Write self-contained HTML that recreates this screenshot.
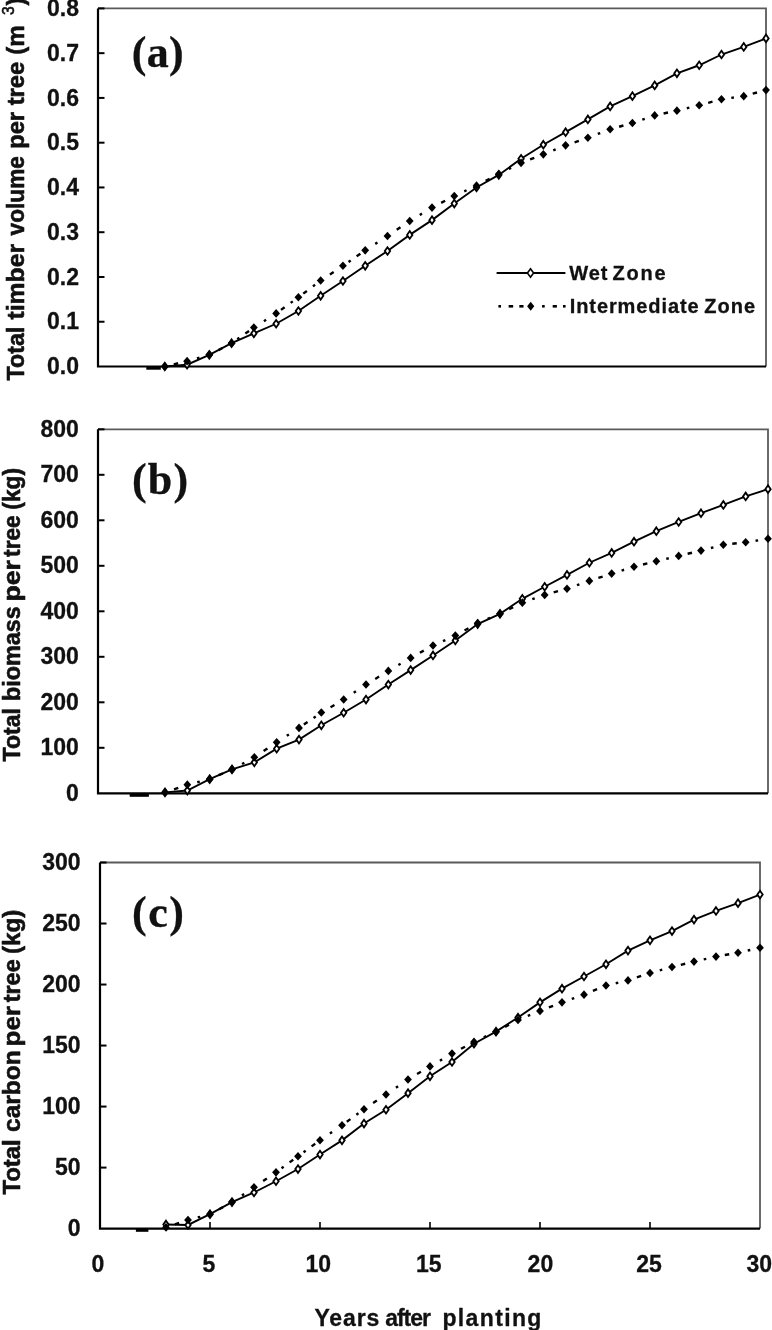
<!DOCTYPE html>
<html><head><meta charset="utf-8"><title>Growth curves</title>
<style>html,body{margin:0;padding:0;background:#fff;}svg{display:block;}</style>
</head><body>
<svg width="772" height="1330" viewBox="0 0 772 1330">
<rect width="772" height="1330" fill="#fff"/>
<path d="M98 8.4H766V366.5" fill="none" stroke="#5a5a5a" stroke-width="1.8"/>
<text x="79.0" y="374.10" text-anchor="end" style="font-family:'Liberation Sans',Arial,sans-serif;font-weight:bold;font-size:23px;stroke:#111;stroke-width:0.3px" fill="#111">0.0</text>
<line x1="98" y1="321.74" x2="104.5" y2="321.74" stroke="#000" stroke-width="2"/>
<text x="79.0" y="329.34" text-anchor="end" style="font-family:'Liberation Sans',Arial,sans-serif;font-weight:bold;font-size:23px;stroke:#111;stroke-width:0.3px" fill="#111">0.1</text>
<line x1="98" y1="276.98" x2="104.5" y2="276.98" stroke="#000" stroke-width="2"/>
<text x="79.0" y="284.58" text-anchor="end" style="font-family:'Liberation Sans',Arial,sans-serif;font-weight:bold;font-size:23px;stroke:#111;stroke-width:0.3px" fill="#111">0.2</text>
<line x1="98" y1="232.21" x2="104.5" y2="232.21" stroke="#000" stroke-width="2"/>
<text x="79.0" y="239.81" text-anchor="end" style="font-family:'Liberation Sans',Arial,sans-serif;font-weight:bold;font-size:23px;stroke:#111;stroke-width:0.3px" fill="#111">0.3</text>
<line x1="98" y1="187.45" x2="104.5" y2="187.45" stroke="#000" stroke-width="2"/>
<text x="79.0" y="195.05" text-anchor="end" style="font-family:'Liberation Sans',Arial,sans-serif;font-weight:bold;font-size:23px;stroke:#111;stroke-width:0.3px" fill="#111">0.4</text>
<line x1="98" y1="142.69" x2="104.5" y2="142.69" stroke="#000" stroke-width="2"/>
<text x="79.0" y="150.29" text-anchor="end" style="font-family:'Liberation Sans',Arial,sans-serif;font-weight:bold;font-size:23px;stroke:#111;stroke-width:0.3px" fill="#111">0.5</text>
<line x1="98" y1="97.92" x2="104.5" y2="97.92" stroke="#000" stroke-width="2"/>
<text x="79.0" y="105.52" text-anchor="end" style="font-family:'Liberation Sans',Arial,sans-serif;font-weight:bold;font-size:23px;stroke:#111;stroke-width:0.3px" fill="#111">0.6</text>
<line x1="98" y1="53.16" x2="104.5" y2="53.16" stroke="#000" stroke-width="2"/>
<text x="79.0" y="60.76" text-anchor="end" style="font-family:'Liberation Sans',Arial,sans-serif;font-weight:bold;font-size:23px;stroke:#111;stroke-width:0.3px" fill="#111">0.7</text>
<line x1="98" y1="8.40" x2="104.5" y2="8.40" stroke="#000" stroke-width="2"/>
<text x="79.0" y="16.00" text-anchor="end" style="font-family:'Liberation Sans',Arial,sans-serif;font-weight:bold;font-size:23px;stroke:#111;stroke-width:0.3px" fill="#111">0.8</text>
<path d="M98 8.4V366.5H766" fill="none" stroke="#000" stroke-width="2.2"/>
<rect x="146.3" y="366.4" width="14.50" height="3.30" fill="#000"/>
<path d="M164.80 366.50 L187.07 364.71 L209.33 354.86 L231.60 343.22 L253.87 333.38 L276.13 323.75 L298.40 310.99 L320.67 295.78 L342.93 281.00 L365.20 265.78 L387.47 251.01 L409.73 234.90 L432.00 220.13 L454.27 203.56 L476.53 187.45 L498.80 174.92 L521.07 158.80 L543.33 144.70 L565.60 132.17 L587.87 119.41 L610.13 106.43 L632.40 96.13 L654.67 85.39 L676.93 73.31 L699.20 65.25 L721.47 54.51 L743.73 46.90 L766.00 38.39" fill="none" stroke="#000" stroke-width="1.9"/>
<path d="M164.80 362.70L167.50 366.50L164.80 370.30L162.10 366.50Z" fill="#fff" stroke="#000" stroke-width="1.8"/>
<path d="M187.07 360.91L189.77 364.71L187.07 368.51L184.37 364.71Z" fill="#fff" stroke="#000" stroke-width="1.8"/>
<path d="M209.33 351.06L212.03 354.86L209.33 358.66L206.63 354.86Z" fill="#fff" stroke="#000" stroke-width="1.8"/>
<path d="M231.60 339.42L234.30 343.22L231.60 347.02L228.90 343.22Z" fill="#fff" stroke="#000" stroke-width="1.8"/>
<path d="M253.87 329.58L256.57 333.38L253.87 337.18L251.17 333.38Z" fill="#fff" stroke="#000" stroke-width="1.8"/>
<path d="M276.13 319.95L278.83 323.75L276.13 327.55L273.43 323.75Z" fill="#fff" stroke="#000" stroke-width="1.8"/>
<path d="M298.40 307.19L301.10 310.99L298.40 314.79L295.70 310.99Z" fill="#fff" stroke="#000" stroke-width="1.8"/>
<path d="M320.67 291.98L323.37 295.78L320.67 299.58L317.97 295.78Z" fill="#fff" stroke="#000" stroke-width="1.8"/>
<path d="M342.93 277.20L345.63 281.00L342.93 284.80L340.23 281.00Z" fill="#fff" stroke="#000" stroke-width="1.8"/>
<path d="M365.20 261.98L367.90 265.78L365.20 269.58L362.50 265.78Z" fill="#fff" stroke="#000" stroke-width="1.8"/>
<path d="M387.47 247.21L390.17 251.01L387.47 254.81L384.77 251.01Z" fill="#fff" stroke="#000" stroke-width="1.8"/>
<path d="M409.73 231.10L412.43 234.90L409.73 238.70L407.03 234.90Z" fill="#fff" stroke="#000" stroke-width="1.8"/>
<path d="M432.00 216.33L434.70 220.13L432.00 223.93L429.30 220.13Z" fill="#fff" stroke="#000" stroke-width="1.8"/>
<path d="M454.27 199.76L456.97 203.56L454.27 207.36L451.57 203.56Z" fill="#fff" stroke="#000" stroke-width="1.8"/>
<path d="M476.53 183.65L479.23 187.45L476.53 191.25L473.83 187.45Z" fill="#fff" stroke="#000" stroke-width="1.8"/>
<path d="M498.80 171.12L501.50 174.92L498.80 178.72L496.10 174.92Z" fill="#fff" stroke="#000" stroke-width="1.8"/>
<path d="M521.07 155.00L523.77 158.80L521.07 162.60L518.37 158.80Z" fill="#fff" stroke="#000" stroke-width="1.8"/>
<path d="M543.33 140.90L546.03 144.70L543.33 148.50L540.63 144.70Z" fill="#fff" stroke="#000" stroke-width="1.8"/>
<path d="M565.60 128.37L568.30 132.17L565.60 135.97L562.90 132.17Z" fill="#fff" stroke="#000" stroke-width="1.8"/>
<path d="M587.87 115.61L590.57 119.41L587.87 123.21L585.17 119.41Z" fill="#fff" stroke="#000" stroke-width="1.8"/>
<path d="M610.13 102.63L612.83 106.43L610.13 110.23L607.43 106.43Z" fill="#fff" stroke="#000" stroke-width="1.8"/>
<path d="M632.40 92.33L635.10 96.13L632.40 99.93L629.70 96.13Z" fill="#fff" stroke="#000" stroke-width="1.8"/>
<path d="M654.67 81.59L657.37 85.39L654.67 89.19L651.97 85.39Z" fill="#fff" stroke="#000" stroke-width="1.8"/>
<path d="M676.93 69.51L679.63 73.31L676.93 77.11L674.23 73.31Z" fill="#fff" stroke="#000" stroke-width="1.8"/>
<path d="M699.20 61.45L701.90 65.25L699.20 69.05L696.50 65.25Z" fill="#fff" stroke="#000" stroke-width="1.8"/>
<path d="M721.47 50.71L724.17 54.51L721.47 58.31L718.77 54.51Z" fill="#fff" stroke="#000" stroke-width="1.8"/>
<path d="M743.73 43.10L746.43 46.90L743.73 50.70L741.03 46.90Z" fill="#fff" stroke="#000" stroke-width="1.8"/>
<path d="M766.00 34.59L768.70 38.39L766.00 42.19L763.30 38.39Z" fill="#fff" stroke="#000" stroke-width="1.8"/>
<path d="M173.75 364.34L178.12 363.29M196.95 358.35L199.45 357.64M218.47 350.08L222.46 348.00M237.22 339.27L239.34 337.78M245.35 333.55L249.03 330.96M263.90 321.18L266.10 319.79M280.99 309.90L284.64 307.26M290.67 302.89L292.77 301.37M303.28 293.63L306.88 290.92M312.95 286.36L315.03 284.80M329.93 274.41L333.67 271.93M348.55 261.89L350.68 260.41M356.67 256.26L360.37 253.69M375.24 243.88L377.43 242.48M396.73 229.78L400.47 227.26M419.75 214.98L421.98 213.64M441.14 202.82L445.13 200.73M464.22 191.35L466.58 190.26M485.67 180.88L489.66 178.80M508.77 169.01L511.09 167.84M530.10 159.38L534.30 157.78M553.26 150.33L555.67 149.36M574.60 142.30L578.86 140.84M597.79 133.98L600.21 133.05M619.10 126.73L623.43 125.52M642.30 119.61L644.76 118.77M663.60 113.48L668.00 112.54M686.80 108.24L689.33 107.62M708.16 102.83L712.51 101.66M731.31 97.88L733.89 97.52M752.70 93.70L757.04 92.52" fill="none" stroke="#000" stroke-width="2.4"/>
<path d="M164.80 362.20L168.70 366.50L164.80 370.80L160.90 366.50Z" fill="#000"/>
<path d="M187.07 356.83L190.97 361.13L187.07 365.43L183.17 361.13Z" fill="#000"/>
<path d="M209.33 350.56L213.23 354.86L209.33 359.16L205.43 354.86Z" fill="#000"/>
<path d="M231.60 338.92L235.50 343.22L231.60 347.52L227.70 343.22Z" fill="#000"/>
<path d="M253.87 323.26L257.77 327.56L253.87 331.86L249.97 327.56Z" fill="#000"/>
<path d="M276.13 309.11L280.03 313.41L276.13 317.71L272.23 313.41Z" fill="#000"/>
<path d="M298.40 293.00L302.30 297.30L298.40 301.60L294.50 297.30Z" fill="#000"/>
<path d="M320.67 276.26L324.57 280.56L320.67 284.86L316.77 280.56Z" fill="#000"/>
<path d="M342.93 261.48L346.83 265.78L342.93 270.08L339.03 265.78Z" fill="#000"/>
<path d="M365.20 246.04L369.10 250.34L365.20 254.64L361.30 250.34Z" fill="#000"/>
<path d="M387.47 231.72L391.37 236.02L387.47 240.32L383.57 236.02Z" fill="#000"/>
<path d="M409.73 216.72L413.63 221.02L409.73 225.32L405.83 221.02Z" fill="#000"/>
<path d="M432.00 203.29L435.90 207.59L432.00 211.89L428.10 207.59Z" fill="#000"/>
<path d="M454.27 191.65L458.17 195.95L454.27 200.25L450.37 195.95Z" fill="#000"/>
<path d="M476.53 181.36L480.43 185.66L476.53 189.96L472.63 185.66Z" fill="#000"/>
<path d="M498.80 169.72L502.70 174.02L498.80 178.32L494.90 174.02Z" fill="#000"/>
<path d="M521.07 158.53L524.97 162.83L521.07 167.13L517.17 162.83Z" fill="#000"/>
<path d="M543.33 150.03L547.23 154.33L543.33 158.63L539.43 154.33Z" fill="#000"/>
<path d="M565.60 141.07L569.50 145.37L565.60 149.67L561.70 145.37Z" fill="#000"/>
<path d="M587.87 133.46L591.77 137.76L587.87 142.06L583.97 137.76Z" fill="#000"/>
<path d="M610.13 124.96L614.03 129.26L610.13 133.56L606.23 129.26Z" fill="#000"/>
<path d="M632.40 118.69L636.30 122.99L632.40 127.29L628.50 122.99Z" fill="#000"/>
<path d="M654.67 111.08L658.57 115.38L654.67 119.68L650.77 115.38Z" fill="#000"/>
<path d="M676.93 106.34L680.83 110.64L676.93 114.94L673.03 110.64Z" fill="#000"/>
<path d="M699.20 100.92L703.10 105.22L699.20 109.52L695.30 105.22Z" fill="#000"/>
<path d="M721.47 94.97L725.37 99.27L721.47 103.57L717.57 99.27Z" fill="#000"/>
<path d="M743.73 91.83L747.63 96.13L743.73 100.43L739.83 96.13Z" fill="#000"/>
<path d="M766.00 85.79L769.90 90.09L766.00 94.39L762.10 90.09Z" fill="#000"/>
<path d="M98 429.3H768V793.3" fill="none" stroke="#5a5a5a" stroke-width="1.8"/>
<text x="78.8" y="800.90" text-anchor="end" style="font-family:'Liberation Sans',Arial,sans-serif;font-weight:bold;font-size:23px;stroke:#111;stroke-width:0.3px" fill="#111">0</text>
<line x1="98" y1="747.80" x2="104.5" y2="747.80" stroke="#000" stroke-width="2"/>
<text x="78.8" y="755.40" text-anchor="end" style="font-family:'Liberation Sans',Arial,sans-serif;font-weight:bold;font-size:23px;stroke:#111;stroke-width:0.3px" fill="#111">100</text>
<line x1="98" y1="702.30" x2="104.5" y2="702.30" stroke="#000" stroke-width="2"/>
<text x="78.8" y="709.90" text-anchor="end" style="font-family:'Liberation Sans',Arial,sans-serif;font-weight:bold;font-size:23px;stroke:#111;stroke-width:0.3px" fill="#111">200</text>
<line x1="98" y1="656.80" x2="104.5" y2="656.80" stroke="#000" stroke-width="2"/>
<text x="78.8" y="664.40" text-anchor="end" style="font-family:'Liberation Sans',Arial,sans-serif;font-weight:bold;font-size:23px;stroke:#111;stroke-width:0.3px" fill="#111">300</text>
<line x1="98" y1="611.30" x2="104.5" y2="611.30" stroke="#000" stroke-width="2"/>
<text x="78.8" y="618.90" text-anchor="end" style="font-family:'Liberation Sans',Arial,sans-serif;font-weight:bold;font-size:23px;stroke:#111;stroke-width:0.3px" fill="#111">400</text>
<line x1="98" y1="565.80" x2="104.5" y2="565.80" stroke="#000" stroke-width="2"/>
<text x="78.8" y="573.40" text-anchor="end" style="font-family:'Liberation Sans',Arial,sans-serif;font-weight:bold;font-size:23px;stroke:#111;stroke-width:0.3px" fill="#111">500</text>
<line x1="98" y1="520.30" x2="104.5" y2="520.30" stroke="#000" stroke-width="2"/>
<text x="78.8" y="527.90" text-anchor="end" style="font-family:'Liberation Sans',Arial,sans-serif;font-weight:bold;font-size:23px;stroke:#111;stroke-width:0.3px" fill="#111">600</text>
<line x1="98" y1="474.80" x2="104.5" y2="474.80" stroke="#000" stroke-width="2"/>
<text x="78.8" y="482.40" text-anchor="end" style="font-family:'Liberation Sans',Arial,sans-serif;font-weight:bold;font-size:23px;stroke:#111;stroke-width:0.3px" fill="#111">700</text>
<line x1="98" y1="429.30" x2="104.5" y2="429.30" stroke="#000" stroke-width="2"/>
<text x="78.8" y="436.90" text-anchor="end" style="font-family:'Liberation Sans',Arial,sans-serif;font-weight:bold;font-size:23px;stroke:#111;stroke-width:0.3px" fill="#111">800</text>
<path d="M98 429.3V793.3H768" fill="none" stroke="#000" stroke-width="2.2"/>
<rect x="129.7" y="793.4" width="19.20" height="3.40" fill="#000"/>
<path d="M165.00 792.39 L187.33 790.57 L209.67 779.19 L232.00 769.41 L254.33 762.36 L276.67 748.71 L299.00 739.61 L321.33 725.28 L343.67 712.76 L366.00 699.57 L388.33 684.55 L410.67 670.09 L433.00 655.43 L455.33 640.42 L477.67 624.04 L500.00 613.80 L522.33 598.79 L544.67 586.73 L567.00 574.90 L589.33 562.75 L611.67 552.92 L634.00 541.68 L656.33 531.22 L678.67 521.98 L701.00 513.20 L723.33 504.92 L745.67 496.41 L768.00 489.13" fill="none" stroke="#000" stroke-width="1.9"/>
<path d="M165.00 788.59L167.70 792.39L165.00 796.19L162.30 792.39Z" fill="#fff" stroke="#000" stroke-width="1.8"/>
<path d="M187.33 786.77L190.03 790.57L187.33 794.37L184.63 790.57Z" fill="#fff" stroke="#000" stroke-width="1.8"/>
<path d="M209.67 775.39L212.37 779.19L209.67 782.99L206.97 779.19Z" fill="#fff" stroke="#000" stroke-width="1.8"/>
<path d="M232.00 765.61L234.70 769.41L232.00 773.21L229.30 769.41Z" fill="#fff" stroke="#000" stroke-width="1.8"/>
<path d="M254.33 758.56L257.03 762.36L254.33 766.16L251.63 762.36Z" fill="#fff" stroke="#000" stroke-width="1.8"/>
<path d="M276.67 744.91L279.37 748.71L276.67 752.51L273.97 748.71Z" fill="#fff" stroke="#000" stroke-width="1.8"/>
<path d="M299.00 735.81L301.70 739.61L299.00 743.41L296.30 739.61Z" fill="#fff" stroke="#000" stroke-width="1.8"/>
<path d="M321.33 721.48L324.03 725.28L321.33 729.08L318.63 725.28Z" fill="#fff" stroke="#000" stroke-width="1.8"/>
<path d="M343.67 708.97L346.37 712.76L343.67 716.56L340.97 712.76Z" fill="#fff" stroke="#000" stroke-width="1.8"/>
<path d="M366.00 695.77L368.70 699.57L366.00 703.37L363.30 699.57Z" fill="#fff" stroke="#000" stroke-width="1.8"/>
<path d="M388.33 680.75L391.03 684.55L388.33 688.35L385.63 684.55Z" fill="#fff" stroke="#000" stroke-width="1.8"/>
<path d="M410.67 666.29L413.37 670.09L410.67 673.89L407.97 670.09Z" fill="#fff" stroke="#000" stroke-width="1.8"/>
<path d="M433.00 651.63L435.70 655.43L433.00 659.23L430.30 655.43Z" fill="#fff" stroke="#000" stroke-width="1.8"/>
<path d="M455.33 636.62L458.03 640.42L455.33 644.22L452.63 640.42Z" fill="#fff" stroke="#000" stroke-width="1.8"/>
<path d="M477.67 620.24L480.37 624.04L477.67 627.84L474.97 624.04Z" fill="#fff" stroke="#000" stroke-width="1.8"/>
<path d="M500.00 610.00L502.70 613.80L500.00 617.60L497.30 613.80Z" fill="#fff" stroke="#000" stroke-width="1.8"/>
<path d="M522.33 594.99L525.03 598.79L522.33 602.59L519.63 598.79Z" fill="#fff" stroke="#000" stroke-width="1.8"/>
<path d="M544.67 582.93L547.37 586.73L544.67 590.53L541.97 586.73Z" fill="#fff" stroke="#000" stroke-width="1.8"/>
<path d="M567.00 571.10L569.70 574.90L567.00 578.70L564.30 574.90Z" fill="#fff" stroke="#000" stroke-width="1.8"/>
<path d="M589.33 558.95L592.03 562.75L589.33 566.55L586.63 562.75Z" fill="#fff" stroke="#000" stroke-width="1.8"/>
<path d="M611.67 549.12L614.37 552.92L611.67 556.72L608.97 552.92Z" fill="#fff" stroke="#000" stroke-width="1.8"/>
<path d="M634.00 537.88L636.70 541.68L634.00 545.48L631.30 541.68Z" fill="#fff" stroke="#000" stroke-width="1.8"/>
<path d="M656.33 527.42L659.03 531.22L656.33 535.02L653.63 531.22Z" fill="#fff" stroke="#000" stroke-width="1.8"/>
<path d="M678.67 518.18L681.37 521.98L678.67 525.78L675.97 521.98Z" fill="#fff" stroke="#000" stroke-width="1.8"/>
<path d="M701.00 509.40L703.70 513.20L701.00 517.00L698.30 513.20Z" fill="#fff" stroke="#000" stroke-width="1.8"/>
<path d="M723.33 501.12L726.03 504.92L723.33 508.72L720.63 504.92Z" fill="#fff" stroke="#000" stroke-width="1.8"/>
<path d="M745.67 492.61L748.37 496.41L745.67 500.21L742.97 496.41Z" fill="#fff" stroke="#000" stroke-width="1.8"/>
<path d="M768.00 485.33L770.70 489.13L768.00 492.93L765.30 489.13Z" fill="#fff" stroke="#000" stroke-width="1.8"/>
<path d="M174.04 789.26L178.29 787.79M197.24 782.23L199.76 781.62M218.77 775.21L222.89 773.40M242.03 763.94L244.31 762.69M263.63 751.03L267.37 748.53M286.74 735.83L288.93 734.42M303.85 724.58L307.55 722.03M313.56 717.89L315.70 716.41M330.55 707.18L334.45 704.92M353.75 692.79L355.91 691.34M375.25 678.90L379.09 676.56M398.38 665.05L400.62 663.74M419.87 652.79L423.80 650.61M442.98 641.08L445.35 640.03M464.54 630.46L468.46 628.27M487.63 618.97L490.03 617.97M509.15 609.23L513.18 607.22M532.27 599.21L534.73 598.36M553.67 592.41L558.00 591.20M576.94 585.22L579.39 584.37M598.36 577.94L602.64 576.54M621.59 570.53L624.08 569.76M642.98 564.51L647.35 563.45M666.24 558.87L668.76 558.26M687.64 553.76L692.02 552.72M710.91 547.98L713.42 547.31M732.26 543.74L736.74 543.27M755.55 540.75L758.12 540.34" fill="none" stroke="#000" stroke-width="2.4"/>
<path d="M165.00 788.09L168.90 792.39L165.00 796.69L161.10 792.39Z" fill="#000"/>
<path d="M187.33 780.36L191.23 784.65L187.33 788.95L183.43 784.65Z" fill="#000"/>
<path d="M209.67 774.89L213.57 779.19L209.67 783.49L205.77 779.19Z" fill="#000"/>
<path d="M232.00 765.11L235.90 769.41L232.00 773.71L228.10 769.41Z" fill="#000"/>
<path d="M254.33 752.92L258.23 757.22L254.33 761.52L250.43 757.22Z" fill="#000"/>
<path d="M276.67 738.04L280.57 742.34L276.67 746.64L272.77 742.34Z" fill="#000"/>
<path d="M299.00 723.62L302.90 727.92L299.00 732.22L295.10 727.92Z" fill="#000"/>
<path d="M321.33 708.24L325.23 712.54L321.33 716.84L317.43 712.54Z" fill="#000"/>
<path d="M343.67 695.27L347.57 699.57L343.67 703.87L339.77 699.57Z" fill="#000"/>
<path d="M366.00 680.25L369.90 684.55L366.00 688.85L362.10 684.55Z" fill="#000"/>
<path d="M388.33 666.61L392.23 670.90L388.33 675.20L384.43 670.90Z" fill="#000"/>
<path d="M410.67 653.59L414.57 657.89L410.67 662.19L406.77 657.89Z" fill="#000"/>
<path d="M433.00 641.22L436.90 645.52L433.00 649.82L429.10 645.52Z" fill="#000"/>
<path d="M455.33 631.30L459.23 635.60L455.33 639.90L451.43 635.60Z" fill="#000"/>
<path d="M477.67 618.83L481.57 623.13L477.67 627.43L473.77 623.13Z" fill="#000"/>
<path d="M500.00 609.50L503.90 613.80L500.00 618.10L496.10 613.80Z" fill="#000"/>
<path d="M522.33 598.36L526.23 602.65L522.33 606.95L518.43 602.65Z" fill="#000"/>
<path d="M544.67 590.62L548.57 594.92L544.67 599.22L540.77 594.92Z" fill="#000"/>
<path d="M567.00 584.39L570.90 588.69L567.00 592.99L563.10 588.69Z" fill="#000"/>
<path d="M589.33 576.61L593.23 580.91L589.33 585.21L585.43 580.91Z" fill="#000"/>
<path d="M611.67 569.28L615.57 573.58L611.67 577.88L607.77 573.58Z" fill="#000"/>
<path d="M634.00 562.41L637.90 566.71L634.00 571.01L630.10 566.71Z" fill="#000"/>
<path d="M656.33 556.95L660.23 561.25L656.33 565.55L652.43 561.25Z" fill="#000"/>
<path d="M678.67 551.58L682.57 555.88L678.67 560.18L674.77 555.88Z" fill="#000"/>
<path d="M701.00 546.30L704.90 550.60L701.00 554.90L697.10 550.60Z" fill="#000"/>
<path d="M723.33 540.39L727.23 544.69L723.33 548.99L719.43 544.69Z" fill="#000"/>
<path d="M745.67 538.02L749.57 542.32L745.67 546.62L741.77 542.32Z" fill="#000"/>
<path d="M768.00 534.47L771.90 538.77L768.00 543.07L764.10 538.77Z" fill="#000"/>
<path d="M100 862.5H760V1228.6" fill="none" stroke="#5a5a5a" stroke-width="1.8"/>
<text x="80.5" y="1236.20" text-anchor="end" style="font-family:'Liberation Sans',Arial,sans-serif;font-weight:bold;font-size:23px;stroke:#111;stroke-width:0.3px" fill="#111">0</text>
<line x1="100" y1="1167.58" x2="106.5" y2="1167.58" stroke="#000" stroke-width="2"/>
<text x="80.5" y="1175.18" text-anchor="end" style="font-family:'Liberation Sans',Arial,sans-serif;font-weight:bold;font-size:23px;stroke:#111;stroke-width:0.3px" fill="#111">50</text>
<line x1="100" y1="1106.57" x2="106.5" y2="1106.57" stroke="#000" stroke-width="2"/>
<text x="80.5" y="1114.17" text-anchor="end" style="font-family:'Liberation Sans',Arial,sans-serif;font-weight:bold;font-size:23px;stroke:#111;stroke-width:0.3px" fill="#111">100</text>
<line x1="100" y1="1045.55" x2="106.5" y2="1045.55" stroke="#000" stroke-width="2"/>
<text x="80.5" y="1053.15" text-anchor="end" style="font-family:'Liberation Sans',Arial,sans-serif;font-weight:bold;font-size:23px;stroke:#111;stroke-width:0.3px" fill="#111">150</text>
<line x1="100" y1="984.53" x2="106.5" y2="984.53" stroke="#000" stroke-width="2"/>
<text x="80.5" y="992.13" text-anchor="end" style="font-family:'Liberation Sans',Arial,sans-serif;font-weight:bold;font-size:23px;stroke:#111;stroke-width:0.3px" fill="#111">200</text>
<line x1="100" y1="923.52" x2="106.5" y2="923.52" stroke="#000" stroke-width="2"/>
<text x="80.5" y="931.12" text-anchor="end" style="font-family:'Liberation Sans',Arial,sans-serif;font-weight:bold;font-size:23px;stroke:#111;stroke-width:0.3px" fill="#111">250</text>
<line x1="100" y1="862.50" x2="106.5" y2="862.50" stroke="#000" stroke-width="2"/>
<text x="80.5" y="870.10" text-anchor="end" style="font-family:'Liberation Sans',Arial,sans-serif;font-weight:bold;font-size:23px;stroke:#111;stroke-width:0.3px" fill="#111">300</text>
<line x1="210.00" y1="1228.6" x2="210.00" y2="1222.1" stroke="#000" stroke-width="1.6"/>
<line x1="320.00" y1="1228.6" x2="320.00" y2="1222.1" stroke="#000" stroke-width="1.6"/>
<line x1="430.00" y1="1228.6" x2="430.00" y2="1222.1" stroke="#000" stroke-width="1.6"/>
<line x1="540.00" y1="1228.6" x2="540.00" y2="1222.1" stroke="#000" stroke-width="1.6"/>
<line x1="650.00" y1="1228.6" x2="650.00" y2="1222.1" stroke="#000" stroke-width="1.6"/>
<path d="M100 862.5V1228.6H760" fill="none" stroke="#000" stroke-width="2.2"/>
<rect x="135.9" y="1228.7" width="12.50" height="3.10" fill="#000"/>
<path d="M166.00 1224.45 L188.00 1224.94 L210.00 1214.20 L232.00 1202.12 L254.00 1192.48 L276.00 1181.25 L298.00 1169.05 L320.00 1154.53 L342.00 1140.37 L364.00 1123.53 L386.00 1109.74 L408.00 1093.14 L430.00 1076.30 L452.00 1062.02 L474.00 1043.72 L496.00 1031.64 L518.00 1017.48 L540.00 1002.35 L562.00 988.68 L584.00 976.48 L606.00 964.28 L628.00 950.61 L650.00 940.36 L672.00 931.08 L694.00 919.61 L716.00 910.95 L738.00 903.14 L760.00 894.59" fill="none" stroke="#000" stroke-width="1.9"/>
<path d="M166.00 1220.65L168.70 1224.45L166.00 1228.25L163.30 1224.45Z" fill="#fff" stroke="#000" stroke-width="1.8"/>
<path d="M188.00 1221.14L190.70 1224.94L188.00 1228.74L185.30 1224.94Z" fill="#fff" stroke="#000" stroke-width="1.8"/>
<path d="M210.00 1210.40L212.70 1214.20L210.00 1218.00L207.30 1214.20Z" fill="#fff" stroke="#000" stroke-width="1.8"/>
<path d="M232.00 1198.32L234.70 1202.12L232.00 1205.92L229.30 1202.12Z" fill="#fff" stroke="#000" stroke-width="1.8"/>
<path d="M254.00 1188.68L256.70 1192.48L254.00 1196.28L251.30 1192.48Z" fill="#fff" stroke="#000" stroke-width="1.8"/>
<path d="M276.00 1177.45L278.70 1181.25L276.00 1185.05L273.30 1181.25Z" fill="#fff" stroke="#000" stroke-width="1.8"/>
<path d="M298.00 1165.25L300.70 1169.05L298.00 1172.85L295.30 1169.05Z" fill="#fff" stroke="#000" stroke-width="1.8"/>
<path d="M320.00 1150.73L322.70 1154.53L320.00 1158.33L317.30 1154.53Z" fill="#fff" stroke="#000" stroke-width="1.8"/>
<path d="M342.00 1136.57L344.70 1140.37L342.00 1144.17L339.30 1140.37Z" fill="#fff" stroke="#000" stroke-width="1.8"/>
<path d="M364.00 1119.73L366.70 1123.53L364.00 1127.33L361.30 1123.53Z" fill="#fff" stroke="#000" stroke-width="1.8"/>
<path d="M386.00 1105.94L388.70 1109.74L386.00 1113.54L383.30 1109.74Z" fill="#fff" stroke="#000" stroke-width="1.8"/>
<path d="M408.00 1089.34L410.70 1093.14L408.00 1096.94L405.30 1093.14Z" fill="#fff" stroke="#000" stroke-width="1.8"/>
<path d="M430.00 1072.50L432.70 1076.30L430.00 1080.10L427.30 1076.30Z" fill="#fff" stroke="#000" stroke-width="1.8"/>
<path d="M452.00 1058.22L454.70 1062.02L452.00 1065.82L449.30 1062.02Z" fill="#fff" stroke="#000" stroke-width="1.8"/>
<path d="M474.00 1039.92L476.70 1043.72L474.00 1047.52L471.30 1043.72Z" fill="#fff" stroke="#000" stroke-width="1.8"/>
<path d="M496.00 1027.84L498.70 1031.64L496.00 1035.44L493.30 1031.64Z" fill="#fff" stroke="#000" stroke-width="1.8"/>
<path d="M518.00 1013.68L520.70 1017.48L518.00 1021.28L515.30 1017.48Z" fill="#fff" stroke="#000" stroke-width="1.8"/>
<path d="M540.00 998.55L542.70 1002.35L540.00 1006.15L537.30 1002.35Z" fill="#fff" stroke="#000" stroke-width="1.8"/>
<path d="M562.00 984.88L564.70 988.68L562.00 992.48L559.30 988.68Z" fill="#fff" stroke="#000" stroke-width="1.8"/>
<path d="M584.00 972.68L586.70 976.48L584.00 980.28L581.30 976.48Z" fill="#fff" stroke="#000" stroke-width="1.8"/>
<path d="M606.00 960.48L608.70 964.28L606.00 968.08L603.30 964.28Z" fill="#fff" stroke="#000" stroke-width="1.8"/>
<path d="M628.00 946.81L630.70 950.61L628.00 954.41L625.30 950.61Z" fill="#fff" stroke="#000" stroke-width="1.8"/>
<path d="M650.00 936.56L652.70 940.36L650.00 944.16L647.30 940.36Z" fill="#fff" stroke="#000" stroke-width="1.8"/>
<path d="M672.00 927.28L674.70 931.08L672.00 934.88L669.30 931.08Z" fill="#fff" stroke="#000" stroke-width="1.8"/>
<path d="M694.00 915.81L696.70 919.61L694.00 923.41L691.30 919.61Z" fill="#fff" stroke="#000" stroke-width="1.8"/>
<path d="M716.00 907.15L718.70 910.95L716.00 914.75L713.30 910.95Z" fill="#fff" stroke="#000" stroke-width="1.8"/>
<path d="M738.00 899.34L740.70 903.14L738.00 906.94L735.30 903.14Z" fill="#fff" stroke="#000" stroke-width="1.8"/>
<path d="M760.00 890.79L762.70 894.59L760.00 898.39L757.30 894.59Z" fill="#fff" stroke="#000" stroke-width="1.8"/>
<path d="M174.87 1224.43L179.13 1223.01M197.74 1217.46L200.26 1216.79M219.03 1209.24L222.97 1207.08M241.92 1195.40L244.08 1193.95M263.14 1181.05L266.86 1178.53M281.55 1168.28L283.65 1166.74M289.58 1162.40L293.22 1159.74M303.55 1152.20L305.65 1150.67M311.58 1146.37L315.22 1143.72M329.93 1133.48L332.07 1132.01M346.78 1121.76L350.42 1119.12M356.35 1114.81L358.45 1113.28M373.13 1103.12L376.87 1100.61M395.93 1087.71L398.07 1086.25M417.07 1074.09L420.93 1071.80M439.88 1060.67L442.12 1059.36M461.01 1048.80L464.99 1046.69M483.82 1037.31L486.18 1036.21M505.01 1026.84L508.99 1024.72M527.80 1015.90L530.20 1014.91M548.90 1007.44L553.10 1005.81M571.77 998.94L574.23 998.08M592.92 990.95L597.08 989.22M615.73 983.24L618.27 982.65M636.87 977.38L641.13 975.94M659.75 970.29L662.25 969.61M680.81 964.81L685.19 963.74M703.73 959.38L706.27 958.80M724.78 955.03L729.22 954.24M747.73 950.52L750.27 949.96" fill="none" stroke="#000" stroke-width="2.4"/>
<path d="M166.00 1223.08L169.90 1227.38L166.00 1231.68L162.10 1227.38Z" fill="#000"/>
<path d="M188.00 1215.76L191.90 1220.06L188.00 1224.36L184.10 1220.06Z" fill="#000"/>
<path d="M210.00 1209.90L213.90 1214.20L210.00 1218.50L206.10 1214.20Z" fill="#000"/>
<path d="M232.00 1197.82L235.90 1202.12L232.00 1206.42L228.10 1202.12Z" fill="#000"/>
<path d="M254.00 1182.93L257.90 1187.23L254.00 1191.53L250.10 1187.23Z" fill="#000"/>
<path d="M276.00 1168.04L279.90 1172.34L276.00 1176.64L272.10 1172.34Z" fill="#000"/>
<path d="M298.00 1151.93L301.90 1156.23L298.00 1160.53L294.10 1156.23Z" fill="#000"/>
<path d="M320.00 1135.95L323.90 1140.25L320.00 1144.55L316.10 1140.25Z" fill="#000"/>
<path d="M342.00 1120.94L345.90 1125.24L342.00 1129.54L338.10 1125.24Z" fill="#000"/>
<path d="M364.00 1104.95L367.90 1109.25L364.00 1113.55L360.10 1109.25Z" fill="#000"/>
<path d="M386.00 1090.19L389.90 1094.49L386.00 1098.79L382.10 1094.49Z" fill="#000"/>
<path d="M408.00 1075.18L411.90 1079.48L408.00 1083.78L404.10 1079.48Z" fill="#000"/>
<path d="M430.00 1062.12L433.90 1066.42L430.00 1070.72L426.10 1066.42Z" fill="#000"/>
<path d="M452.00 1049.30L455.90 1053.60L452.00 1057.90L448.10 1053.60Z" fill="#000"/>
<path d="M474.00 1037.59L477.90 1041.89L474.00 1046.19L470.10 1041.89Z" fill="#000"/>
<path d="M496.00 1027.34L499.90 1031.64L496.00 1035.94L492.10 1031.64Z" fill="#000"/>
<path d="M518.00 1015.62L521.90 1019.92L518.00 1024.22L514.10 1019.92Z" fill="#000"/>
<path d="M540.00 1006.59L543.90 1010.89L540.00 1015.19L536.10 1010.89Z" fill="#000"/>
<path d="M562.00 998.05L565.90 1002.35L562.00 1006.65L558.10 1002.35Z" fill="#000"/>
<path d="M584.00 990.36L587.90 994.66L584.00 998.96L580.10 994.66Z" fill="#000"/>
<path d="M606.00 981.21L609.90 985.51L606.00 989.81L602.10 985.51Z" fill="#000"/>
<path d="M628.00 976.08L631.90 980.38L628.00 984.68L624.10 980.38Z" fill="#000"/>
<path d="M650.00 968.64L653.90 972.94L650.00 977.24L646.10 972.94Z" fill="#000"/>
<path d="M672.00 962.66L675.90 966.96L672.00 971.26L668.10 966.96Z" fill="#000"/>
<path d="M694.00 957.29L697.90 961.59L694.00 965.89L690.10 961.59Z" fill="#000"/>
<path d="M716.00 952.29L719.90 956.59L716.00 960.89L712.10 956.59Z" fill="#000"/>
<path d="M738.00 948.38L741.90 952.68L738.00 956.98L734.10 952.68Z" fill="#000"/>
<path d="M760.00 943.50L763.90 947.80L760.00 952.10L756.10 947.80Z" fill="#000"/>
<text x="98.00" y="1272.1" text-anchor="middle" style="font-family:'Liberation Sans',Arial,sans-serif;font-weight:bold;font-size:23px;stroke:#111;stroke-width:0.3px" fill="#111">0</text>
<text x="209.00" y="1272.1" text-anchor="middle" style="font-family:'Liberation Sans',Arial,sans-serif;font-weight:bold;font-size:23px;stroke:#111;stroke-width:0.3px" fill="#111">5</text>
<text x="318.30" y="1272.1" text-anchor="middle" style="font-family:'Liberation Sans',Arial,sans-serif;font-weight:bold;font-size:23px;stroke:#111;stroke-width:0.3px" fill="#111">10</text>
<text x="428.70" y="1272.1" text-anchor="middle" style="font-family:'Liberation Sans',Arial,sans-serif;font-weight:bold;font-size:23px;stroke:#111;stroke-width:0.3px" fill="#111">15</text>
<text x="540.40" y="1272.1" text-anchor="middle" style="font-family:'Liberation Sans',Arial,sans-serif;font-weight:bold;font-size:23px;stroke:#111;stroke-width:0.3px" fill="#111">20</text>
<text x="649.00" y="1272.1" text-anchor="middle" style="font-family:'Liberation Sans',Arial,sans-serif;font-weight:bold;font-size:23px;stroke:#111;stroke-width:0.3px" fill="#111">25</text>
<text x="759.30" y="1272.1" text-anchor="middle" style="font-family:'Liberation Sans',Arial,sans-serif;font-weight:bold;font-size:23px;stroke:#111;stroke-width:0.3px" fill="#111">30</text>
<line x1="496.6" y1="273" x2="565.4" y2="273" stroke="#000" stroke-width="2"/>
<path d="M530.5 268.8L533.6 273L530.5 277.2L527.4 273Z" fill="#fff" stroke="#000" stroke-width="1.6"/>
<rect x="498.40" y="305" width="2.6" height="2.6" fill="#000"/>
<rect x="508.65" y="305" width="4.5" height="2.6" fill="#000"/>
<rect x="519.30" y="305" width="4.2" height="2.6" fill="#000"/>
<rect x="542.10" y="305" width="2.6" height="2.6" fill="#000"/>
<rect x="552.70" y="305" width="4.2" height="2.6" fill="#000"/>
<rect x="563.00" y="305" width="2.6" height="2.6" fill="#000"/>
<path d="M530.7 301.8L534.3 306.3L530.7 310.8L527.1 306.3Z" fill="#000"/>
<text transform="translate(24.0 380.40) rotate(-90)" textLength="53.80" lengthAdjust="spacingAndGlyphs" style="font-family:'Liberation Sans',Arial,sans-serif;font-weight:bold;font-size:24px;stroke:#111;stroke-width:0.6px;stroke-linejoin:round" fill="#111">Total</text>
<text transform="translate(24.0 319.60) rotate(-90)" textLength="75.73" lengthAdjust="spacingAndGlyphs" style="font-family:'Liberation Sans',Arial,sans-serif;font-weight:bold;font-size:24px;stroke:#111;stroke-width:0.6px;stroke-linejoin:round" fill="#111">timber</text>
<text transform="translate(24.0 235.40) rotate(-90)" textLength="79.34" lengthAdjust="spacingAndGlyphs" style="font-family:'Liberation Sans',Arial,sans-serif;font-weight:bold;font-size:24px;stroke:#111;stroke-width:0.6px;stroke-linejoin:round" fill="#111">volume</text>
<text transform="translate(24.0 148.80) rotate(-90)" textLength="36.81" lengthAdjust="spacingAndGlyphs" style="font-family:'Liberation Sans',Arial,sans-serif;font-weight:bold;font-size:24px;stroke:#111;stroke-width:0.6px;stroke-linejoin:round" fill="#111">per</text>
<text transform="translate(24.0 105.30) rotate(-90)" textLength="43.36" lengthAdjust="spacingAndGlyphs" style="font-family:'Liberation Sans',Arial,sans-serif;font-weight:bold;font-size:24px;stroke:#111;stroke-width:0.6px;stroke-linejoin:round" fill="#111">tree</text>
<text transform="translate(24.0 54.70) rotate(-90)" textLength="29.61" lengthAdjust="spacingAndGlyphs" style="font-family:'Liberation Sans',Arial,sans-serif;font-weight:bold;font-size:24px;stroke:#111;stroke-width:0.6px;stroke-linejoin:round" fill="#111">(m</text>
<text transform="translate(13.9 15.00) rotate(-90)" textLength="8.80" lengthAdjust="spacingAndGlyphs" style="font-family:'Liberation Sans',Arial,sans-serif;font-weight:normal;font-size:17px;stroke:#111;stroke-width:0.6px;stroke-linejoin:round" fill="#111">3</text>
<text transform="translate(24.0 5.50) rotate(-90)" textLength="7.78" lengthAdjust="spacingAndGlyphs" style="font-family:'Liberation Sans',Arial,sans-serif;font-weight:bold;font-size:24px;stroke:#111;stroke-width:0.6px;stroke-linejoin:round" fill="#111">)</text>
<text transform="translate(19.7 761.40) rotate(-90)" textLength="53.37" lengthAdjust="spacingAndGlyphs" style="font-family:'Liberation Sans',Arial,sans-serif;font-weight:bold;font-size:24px;stroke:#111;stroke-width:0.6px;stroke-linejoin:round" fill="#111">Total</text>
<text transform="translate(19.7 701.00) rotate(-90)" textLength="94.83" lengthAdjust="spacingAndGlyphs" style="font-family:'Liberation Sans',Arial,sans-serif;font-weight:bold;font-size:24px;stroke:#111;stroke-width:0.6px;stroke-linejoin:round" fill="#111">biomass</text>
<text transform="translate(19.7 601.60) rotate(-90)" textLength="41.44" lengthAdjust="spacingAndGlyphs" style="font-family:'Liberation Sans',Arial,sans-serif;font-weight:bold;font-size:24px;stroke:#111;stroke-width:0.6px;stroke-linejoin:round" fill="#111">per</text>
<text transform="translate(19.7 556.90) rotate(-90)" textLength="41.53" lengthAdjust="spacingAndGlyphs" style="font-family:'Liberation Sans',Arial,sans-serif;font-weight:bold;font-size:24px;stroke:#111;stroke-width:0.6px;stroke-linejoin:round" fill="#111">tree</text>
<text transform="translate(19.7 509.70) rotate(-90)" textLength="41.80" lengthAdjust="spacingAndGlyphs" style="font-family:'Liberation Sans',Arial,sans-serif;font-weight:bold;font-size:24px;stroke:#111;stroke-width:0.6px;stroke-linejoin:round" fill="#111">(kg)</text>
<text transform="translate(19.8 1194.60) rotate(-90)" textLength="55.36" lengthAdjust="spacingAndGlyphs" style="font-family:'Liberation Sans',Arial,sans-serif;font-weight:bold;font-size:24px;stroke:#111;stroke-width:0.6px;stroke-linejoin:round" fill="#111">Total</text>
<text transform="translate(19.8 1131.90) rotate(-90)" textLength="81.64" lengthAdjust="spacingAndGlyphs" style="font-family:'Liberation Sans',Arial,sans-serif;font-weight:bold;font-size:24px;stroke:#111;stroke-width:0.6px;stroke-linejoin:round" fill="#111">carbon</text>
<text transform="translate(19.8 1046.40) rotate(-90)" textLength="40.25" lengthAdjust="spacingAndGlyphs" style="font-family:'Liberation Sans',Arial,sans-serif;font-weight:bold;font-size:24px;stroke:#111;stroke-width:0.6px;stroke-linejoin:round" fill="#111">per</text>
<text transform="translate(19.8 1002.30) rotate(-90)" textLength="42.97" lengthAdjust="spacingAndGlyphs" style="font-family:'Liberation Sans',Arial,sans-serif;font-weight:bold;font-size:24px;stroke:#111;stroke-width:0.6px;stroke-linejoin:round" fill="#111">tree</text>
<text transform="translate(19.8 954.00) rotate(-90)" textLength="44.44" lengthAdjust="spacingAndGlyphs" style="font-family:'Liberation Sans',Arial,sans-serif;font-weight:bold;font-size:24px;stroke:#111;stroke-width:0.6px;stroke-linejoin:round" fill="#111">(kg)</text>
<text x="314.40" y="1325.8" textLength="65.00" lengthAdjust="spacing" style="font-family:'Liberation Sans',Arial,sans-serif;font-weight:bold;font-size:23px;stroke:#111;stroke-width:0.3px;stroke-linejoin:round" fill="#111">Years</text>
<text x="385.20" y="1325.8" textLength="45.80" lengthAdjust="spacing" style="font-family:'Liberation Sans',Arial,sans-serif;font-weight:bold;font-size:23px;stroke:#111;stroke-width:0.3px;stroke-linejoin:round" fill="#111">after</text>
<text x="442.40" y="1325.8" textLength="99.00" lengthAdjust="spacing" style="font-family:'Liberation Sans',Arial,sans-serif;font-weight:bold;font-size:23px;stroke:#111;stroke-width:0.3px;stroke-linejoin:round" fill="#111">planting</text>
<text x="569.30" y="279.6" textLength="38.00" lengthAdjust="spacing" style="font-family:'Liberation Sans',Arial,sans-serif;font-weight:bold;font-size:20px;stroke:#111;stroke-width:0.3px;stroke-linejoin:round" fill="#111">Wet</text>
<text x="612.60" y="279.6" textLength="53.00" lengthAdjust="spacing" style="font-family:'Liberation Sans',Arial,sans-serif;font-weight:bold;font-size:20px;stroke:#111;stroke-width:0.3px;stroke-linejoin:round" fill="#111">Zone</text>
<text x="569.70" y="313.4" textLength="129.00" lengthAdjust="spacing" style="font-family:'Liberation Sans',Arial,sans-serif;font-weight:bold;font-size:20px;stroke:#111;stroke-width:0.3px;stroke-linejoin:round" fill="#111">Intermediate</text>
<text x="704.30" y="313.4" textLength="50.80" lengthAdjust="spacing" style="font-family:'Liberation Sans',Arial,sans-serif;font-weight:bold;font-size:20px;stroke:#111;stroke-width:0.3px;stroke-linejoin:round" fill="#111">Zone</text>
<text x="131.80" y="67.3" textLength="51.80" lengthAdjust="spacing" style="font-family:'Liberation Serif','Times New Roman',serif;font-weight:bold;font-size:44px;stroke:#111;stroke-width:0.3px;stroke-linejoin:round" fill="#111">(a)</text>
<text x="132.00" y="494.3" textLength="56.20" lengthAdjust="spacing" style="font-family:'Liberation Serif','Times New Roman',serif;font-weight:bold;font-size:44px;stroke:#111;stroke-width:0.3px;stroke-linejoin:round" fill="#111">(b)</text>
<text x="132.00" y="927.3" textLength="51.80" lengthAdjust="spacing" style="font-family:'Liberation Serif','Times New Roman',serif;font-weight:bold;font-size:44px;stroke:#111;stroke-width:0.3px;stroke-linejoin:round" fill="#111">(c)</text>
</svg>
</body></html>
